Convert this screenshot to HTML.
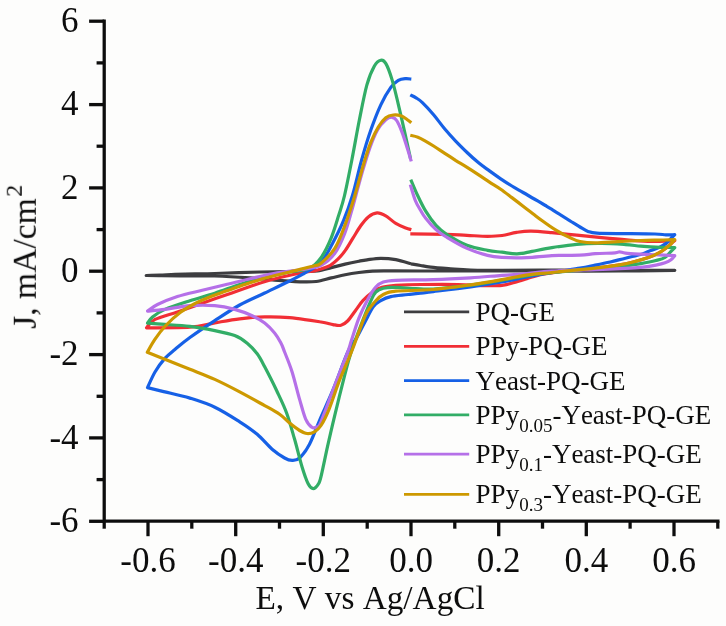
<!DOCTYPE html>
<html><head><meta charset="utf-8"><title>CV</title>
<style>
html,body{margin:0;padding:0;background:#fdfdfc;}
body{width:726px;height:626px;overflow:hidden;font-family:"Liberation Serif",serif;}
svg{display:block;will-change:transform;}
text{font-kerning:none;}
</style></head><body>
<svg width="726" height="626" viewBox="0 0 726 626">
<defs><filter id="soft" x="0" y="0" width="726" height="626" filterUnits="userSpaceOnUse"><feGaussianBlur stdDeviation="0.35"/></filter></defs>
<rect width="726" height="626" fill="#fdfdfc"/>
<g filter="url(#soft)">
<path d="M411.0 263.8C412.6 264.1 417.4 264.9 420.7 265.5C424.0 266.1 425.7 266.6 430.7 267.1C435.7 267.7 444.0 268.3 450.6 268.8C457.2 269.3 462.0 269.8 470.6 270.0C479.2 270.2 487.1 270.3 502.0 270.3C516.9 270.3 540.3 270.2 560.0 270.2C579.7 270.2 600.9 270.3 620.0 270.3C639.1 270.3 665.7 270.3 674.8 270.3C665.7 270.4 639.1 270.9 620.0 271.0C600.9 271.1 579.7 271.0 560.0 271.0C540.3 271.0 525.2 271.0 502.0 271.0C478.8 271.0 439.4 271.0 420.7 271.0C402.0 271.0 398.0 270.9 390.0 270.9C382.0 270.9 377.8 270.8 372.6 271.1C367.4 271.4 363.5 271.9 358.9 272.5C354.3 273.1 349.7 273.8 345.1 274.7C340.5 275.6 336.1 276.8 331.3 277.9C326.5 279.0 321.4 280.9 316.2 281.5C311.0 282.1 306.9 282.0 300.0 281.8C293.1 281.6 283.0 280.9 274.6 280.2C266.2 279.5 259.7 278.5 249.7 277.8C239.7 277.1 226.4 276.3 214.8 276.0C203.2 275.7 189.1 275.9 180.0 275.8C170.9 275.7 165.6 275.7 160.0 275.6C154.4 275.6 148.5 275.5 146.2 275.5C148.5 275.4 155.2 275.4 160.0 275.2C164.8 275.0 169.2 274.5 175.0 274.3C180.8 274.1 188.4 273.9 195.0 273.8C201.6 273.7 204.0 273.8 214.8 273.5C225.6 273.2 247.2 272.3 259.7 272.0C272.2 271.7 282.2 271.6 289.6 271.5C297.0 271.4 299.4 271.5 304.0 271.4C308.6 271.3 312.9 271.6 317.5 271.0C322.1 270.4 326.7 268.8 331.3 267.6C335.9 266.5 340.5 265.2 345.1 264.1C349.7 263.0 355.2 261.9 358.9 261.2C362.6 260.5 363.5 260.3 367.1 259.8C370.8 259.3 376.0 258.3 380.8 258.3C385.6 258.3 390.8 258.7 395.8 259.6C400.8 260.5 408.5 263.1 411.0 263.8" fill="none" stroke="#3c3e40" stroke-width="3.2" stroke-linejoin="round" stroke-linecap="butt"/>
<path d="M410.3 233.9C416.3 234.0 436.9 234.1 446.3 234.3C455.8 234.6 460.1 235.1 467.0 235.4C473.9 235.7 481.8 236.3 487.6 236.3C493.5 236.3 497.3 236.2 502.1 235.5C506.9 234.8 511.8 233.1 516.6 232.4C521.4 231.7 525.1 231.1 531.0 231.2C536.9 231.2 544.3 232.0 551.9 232.7C559.5 233.4 568.5 234.4 576.8 235.2C585.1 236.0 593.4 236.9 601.7 237.7C610.0 238.5 618.4 239.3 626.7 239.9C635.0 240.5 643.6 241.3 651.6 241.4C659.6 241.5 670.9 240.7 674.8 240.6C674.2 241.1 672.4 242.6 671.0 243.8C669.6 245.0 668.5 246.1 666.5 247.6C664.5 249.1 661.9 251.2 658.9 252.9C655.9 254.6 652.6 256.0 648.3 257.5C644.0 259.0 638.1 260.7 633.1 262.0C628.1 263.3 624.3 264.1 618.0 265.1C611.7 266.1 601.5 267.4 595.2 268.1C588.9 268.9 587.2 268.8 580.0 269.6C572.8 270.4 558.7 271.9 551.9 272.8C545.1 273.7 543.6 273.9 539.4 274.9C535.2 275.9 531.0 277.4 526.9 278.6C522.8 279.9 518.6 281.3 514.5 282.4C510.4 283.5 507.2 284.8 502.0 285.3C496.8 285.9 490.4 285.8 483.1 285.7C475.8 285.6 468.5 284.7 458.1 284.5C447.7 284.3 431.1 284.4 420.7 284.5C410.3 284.6 402.2 284.9 395.8 285.3C389.4 285.8 385.9 286.1 382.0 287.2C378.1 288.3 375.8 289.8 372.6 292.0C369.4 294.2 365.8 297.6 362.9 300.7C360.0 303.8 357.9 307.3 355.4 310.7C352.8 314.1 350.0 318.6 347.6 321.0C345.2 323.4 343.4 324.7 341.0 325.3C338.6 325.9 336.3 325.2 333.0 324.6C329.7 324.1 328.2 323.1 321.0 322.0C313.8 320.9 299.0 318.6 289.6 317.7C280.2 316.8 273.0 316.7 264.7 316.9C256.4 317.1 248.0 317.8 239.7 318.8C231.4 319.8 223.1 321.4 214.8 322.8C206.5 324.2 201.3 326.4 189.9 327.2C178.5 328.0 153.7 327.7 146.5 327.8C147.9 326.4 149.8 322.0 155.0 319.4C160.2 316.8 169.5 314.6 177.4 311.9C185.3 309.2 194.0 306.1 202.3 303.2C210.6 300.3 219.0 297.4 227.3 294.5C235.6 291.6 243.9 288.4 252.2 285.7C260.5 283.0 268.8 280.4 277.1 278.3C285.4 276.2 295.6 274.1 302.0 272.8C308.4 271.5 311.7 271.4 315.2 270.6C318.7 269.9 320.5 269.2 323.0 268.3C325.5 267.4 327.8 266.8 330.3 265.3C332.8 263.8 335.4 261.7 337.9 259.2C340.4 256.7 343.0 253.6 345.5 250.1C348.0 246.6 350.6 241.9 353.1 237.9C355.6 233.9 358.2 229.3 360.7 225.8C363.2 222.3 365.6 219.1 368.3 216.9C371.0 214.8 374.2 213.1 377.1 212.9C380.0 212.7 382.7 214.2 385.8 215.9C388.9 217.7 392.5 221.4 395.8 223.4C399.1 225.4 403.2 226.9 405.8 227.9C408.4 228.9 410.4 229.4 411.3 229.7" fill="none" stroke="#f12f35" stroke-width="3.2" stroke-linejoin="round" stroke-linecap="butt"/>
<path d="M410.3 94.8C411.2 95.3 414.0 96.5 416.0 97.8C418.0 99.1 419.5 99.8 422.4 102.6C425.3 105.4 429.9 110.3 433.6 114.7C437.3 119.1 441.1 124.6 444.8 129.0C448.5 133.4 452.2 137.4 455.9 141.3C459.6 145.2 463.4 148.9 467.1 152.5C470.8 156.1 474.6 159.5 478.3 162.6C482.0 165.7 485.8 168.2 489.5 170.9C493.2 173.6 497.0 176.3 500.7 178.8C504.4 181.3 508.2 183.7 511.9 186.0C515.6 188.3 519.4 190.3 523.1 192.5C526.8 194.7 530.6 196.8 534.3 199.0C538.0 201.2 542.5 203.8 545.4 205.5C548.3 207.2 547.5 206.7 551.9 209.4C556.3 212.2 567.1 219.1 571.8 222.0C576.5 224.9 577.3 225.4 580.0 227.0C582.7 228.6 585.2 230.4 588.0 231.4C590.8 232.4 590.8 232.8 597.0 233.2C603.2 233.6 615.8 233.5 625.5 233.6C635.2 233.7 648.2 233.8 655.0 234.0C661.8 234.2 662.7 234.7 666.0 234.8C669.3 234.9 673.3 234.7 674.8 234.7C674.2 235.3 672.4 237.1 671.0 238.5C669.6 239.9 668.5 241.6 666.5 243.1C664.5 244.6 661.9 246.2 658.9 247.6C655.9 249.0 651.3 250.2 648.3 251.4C645.3 252.6 644.5 253.4 640.7 254.5C636.9 255.6 630.6 256.9 625.5 258.2C620.4 259.4 615.3 260.9 610.3 262.0C605.2 263.1 600.2 264.1 595.2 265.1C590.2 266.1 587.2 266.9 580.0 268.1C572.8 269.3 560.8 271.0 551.9 272.5C543.0 274.0 535.2 275.4 526.9 277.0C518.6 278.6 511.4 280.4 502.0 282.0C492.6 283.6 482.1 285.2 470.6 286.8C459.1 288.4 443.6 290.3 433.2 291.6C422.8 292.9 415.4 293.7 408.3 294.5C401.2 295.3 395.4 295.6 390.8 296.6C386.2 297.6 383.7 298.9 380.8 300.6C377.9 302.3 375.9 303.2 373.4 306.6C370.9 310.0 368.4 315.4 365.6 320.7C362.8 325.9 359.5 332.9 356.5 338.1C353.5 343.3 351.7 343.4 347.8 352.0C343.9 360.6 337.8 378.2 333.2 389.4C328.6 400.6 323.9 410.2 320.0 419.3C316.1 428.4 312.9 437.8 309.5 444.2C306.1 450.6 302.5 455.3 299.6 458.0C296.7 460.7 294.6 460.4 292.1 460.4C289.6 460.4 287.9 459.9 284.6 458.0C281.3 456.1 276.7 453.1 272.1 449.2C267.5 445.2 262.6 438.9 257.2 434.3C251.8 429.7 246.8 426.3 239.7 421.8C232.6 417.3 223.1 411.1 214.8 407.2C206.5 403.2 198.2 400.7 189.9 398.1C181.6 395.6 172.0 393.6 164.9 391.9C157.8 390.1 150.4 388.3 147.5 387.6C148.8 385.0 152.1 376.9 155.0 372.0C157.9 367.1 161.6 362.1 164.9 358.4C168.2 354.6 170.7 353.0 174.9 349.5C179.1 346.0 183.2 342.3 189.9 337.5C196.6 332.7 206.5 326.0 214.8 320.6C223.1 315.2 231.4 309.6 239.7 305.0C248.0 300.4 256.4 297.0 264.7 293.0C273.0 289.0 283.0 284.3 289.6 281.0C296.2 277.7 299.4 276.3 304.6 273.2C309.8 270.1 316.4 267.3 321.0 262.3C325.6 257.3 328.8 250.3 332.5 243.4C336.2 236.5 340.1 228.8 343.4 220.9C346.7 213.0 349.2 206.2 352.3 196.0C355.4 185.8 358.6 170.7 361.7 159.7C364.8 148.7 367.7 139.0 370.9 129.8C374.1 120.7 377.5 111.9 380.8 104.8C384.1 97.7 387.9 91.5 390.8 87.4C393.7 83.3 395.8 81.9 398.3 80.4C400.8 78.9 403.6 78.8 405.8 78.6C408.0 78.4 410.4 79.0 411.3 79.1" fill="none" stroke="#1660e6" stroke-width="3.2" stroke-linejoin="round" stroke-linecap="butt"/>
<path d="M410.8 179.6C411.9 182.2 414.9 189.7 417.4 195.0C419.9 200.3 422.6 206.1 425.7 211.2C428.8 216.3 432.6 221.6 436.0 225.4C439.4 229.2 441.1 230.7 446.3 234.0C451.5 237.3 460.1 242.5 467.0 245.2C473.9 247.9 481.8 249.2 487.6 250.4C493.4 251.6 497.1 251.6 502.0 252.2C506.9 252.8 512.0 254.0 517.0 253.9C522.0 253.8 526.1 252.5 531.9 251.4C537.7 250.3 544.4 248.8 551.9 247.6C559.4 246.4 568.5 245.0 576.8 244.3C585.1 243.6 593.6 243.4 601.7 243.5C609.8 243.6 619.0 244.2 625.5 244.6C632.0 245.0 635.6 245.7 640.7 246.1C645.8 246.5 650.2 246.9 655.9 247.2C661.6 247.4 671.6 247.5 674.8 247.6C674.2 248.2 672.6 249.8 671.0 251.4C669.4 253.1 667.5 256.0 665.0 257.5C662.5 259.0 659.9 259.5 655.9 260.5C651.9 261.5 645.8 262.7 640.7 263.6C635.6 264.5 630.6 265.3 625.5 265.9C620.4 266.5 615.3 267.0 610.3 267.4C605.2 267.8 600.2 268.1 595.2 268.5C590.2 268.9 585.9 269.2 580.0 269.8C574.1 270.4 568.0 271.0 560.0 271.8C552.0 272.6 541.6 273.4 531.9 274.8C522.2 276.2 512.2 278.5 502.0 280.2C491.8 281.9 482.1 283.7 470.6 285.2C459.1 286.7 442.4 288.4 433.2 289.0C424.0 289.6 421.9 288.9 415.7 288.6C409.5 288.3 401.2 287.4 395.8 287.3C390.4 287.2 386.6 287.4 383.3 288.2C380.0 289.0 377.9 289.9 375.8 292.0C373.7 294.1 373.4 295.2 370.9 300.7C368.4 306.2 364.3 316.4 361.0 325.0C357.7 333.6 353.9 343.8 351.2 352.0C348.5 360.2 347.6 364.0 344.9 374.4C342.2 384.8 337.9 402.2 335.0 414.3C332.1 426.4 329.8 436.3 327.5 446.7C325.2 457.1 322.5 470.5 321.0 476.7C319.5 482.9 319.6 482.1 318.3 484.1C317.0 486.1 315.0 488.6 313.3 488.6C311.6 488.6 310.2 487.8 308.3 484.1C306.4 480.5 304.3 474.2 302.0 466.7C299.7 459.2 297.2 448.2 294.6 439.3C292.0 430.4 289.6 421.1 286.6 413.0C283.6 404.9 280.2 398.2 276.6 390.5C273.0 382.8 267.9 372.9 264.7 366.8C261.5 360.7 260.1 357.7 257.2 353.8C254.3 349.9 250.9 346.2 247.2 343.2C243.4 340.2 240.1 337.7 234.7 335.6C229.3 333.5 222.3 332.1 214.8 330.6C207.3 329.1 198.2 327.4 189.9 326.4C181.6 325.4 172.0 324.9 164.9 324.4C157.8 323.8 150.4 323.3 147.5 323.1C148.3 322.1 149.6 319.2 152.5 316.9C155.4 314.6 158.7 312.1 164.9 309.4C171.1 306.7 181.6 303.4 189.9 300.7C198.2 298.0 206.5 295.9 214.8 293.2C223.1 290.5 231.4 287.2 239.7 284.5C248.0 281.8 256.4 279.1 264.7 277.0C273.0 274.9 282.1 273.4 289.6 272.0C297.1 270.6 304.3 270.7 309.5 268.3C314.7 265.9 317.4 262.7 321.0 257.7C324.6 252.7 328.1 245.4 331.0 238.4C333.9 231.4 336.3 223.0 338.5 215.9C340.7 208.8 342.2 205.4 344.4 196.0C346.6 186.6 349.4 172.4 351.9 159.7C354.4 147.0 356.9 132.3 359.4 119.8C361.9 107.3 364.4 93.9 366.9 84.9C369.4 75.9 372.1 70.1 374.4 66.0C376.7 61.9 378.9 60.6 380.8 60.2C382.7 59.8 384.0 60.3 385.9 63.6C387.8 66.9 389.8 72.2 392.1 79.9C394.4 87.6 396.8 97.7 399.6 109.8C402.5 121.9 407.4 144.4 409.2 152.5C411.0 160.6 410.2 157.5 410.4 158.5" fill="none" stroke="#31ad66" stroke-width="3.2" stroke-linejoin="round" stroke-linecap="butt"/>
<path d="M410.3 184.6C411.1 187.2 413.6 196.2 415.3 200.5C417.0 204.8 419.0 207.6 420.7 210.5C422.4 213.4 423.1 215.0 425.7 218.2C428.2 221.4 432.6 226.5 436.0 229.6C439.4 232.7 441.1 233.9 446.3 237.0C451.5 240.1 460.1 245.3 467.0 248.4C473.9 251.5 481.8 253.9 487.6 255.4C493.4 256.9 495.4 257.0 502.0 257.4C508.6 257.8 518.6 257.9 526.9 257.6C535.2 257.3 543.0 256.0 551.9 255.6C560.8 255.2 572.8 255.5 580.0 255.2C587.2 254.9 589.4 254.1 595.2 253.7C601.0 253.3 610.9 253.2 614.9 252.9C618.9 252.6 617.7 251.9 619.5 251.9C621.3 251.9 622.0 252.8 625.5 253.2C629.0 253.6 635.1 253.9 640.7 254.2C646.3 254.5 653.2 254.7 658.9 254.9C664.6 255.2 672.1 255.6 674.8 255.7C674.2 256.4 672.6 258.6 671.0 259.8C669.4 261.0 667.5 261.9 665.0 262.8C662.5 263.7 659.9 264.3 655.9 265.1C651.9 265.9 645.8 266.8 640.7 267.4C635.6 267.9 631.8 268.1 625.5 268.4C619.2 268.7 615.1 268.9 602.8 269.3C590.5 269.8 564.5 270.4 551.9 271.1C539.2 271.8 535.2 273.0 526.9 273.7C518.6 274.4 511.4 274.6 502.0 275.3C492.6 276.0 482.1 277.1 470.6 277.8C459.1 278.5 445.7 279.2 433.2 279.6C420.7 280.0 404.1 279.9 395.8 280.3C387.5 280.7 386.6 280.9 383.3 282.0C380.0 283.1 378.3 284.3 375.8 287.0C373.3 289.7 371.2 293.0 368.4 298.2C365.6 303.4 361.7 311.1 358.9 318.2C356.1 325.3 353.3 335.0 351.4 340.6C349.5 346.2 350.8 343.8 347.7 352.0C344.6 360.2 337.4 378.4 333.0 390.0C328.6 401.6 323.7 415.7 321.0 421.8C318.3 427.9 318.5 425.9 317.0 426.8C315.5 427.7 313.9 428.6 312.0 427.3C310.1 426.1 307.9 424.0 305.8 419.3C303.7 414.6 301.9 407.3 299.6 399.4C297.3 391.5 294.6 379.8 292.1 371.9C289.6 364.0 286.5 356.8 284.6 352.0C282.7 347.2 282.6 346.1 280.9 343.0C279.2 339.9 277.3 336.4 274.6 333.1C271.9 329.8 268.4 326.0 264.7 323.1C261.0 320.2 257.2 318.0 252.2 315.7C247.2 313.4 240.9 311.1 234.7 309.4C228.5 307.7 222.3 306.3 214.8 305.7C207.3 305.1 198.2 305.1 189.9 305.7C181.6 306.3 172.0 308.5 164.9 309.4C157.8 310.3 150.4 310.9 147.5 311.2C149.2 310.1 152.5 306.9 157.5 304.5C162.5 302.1 169.9 298.9 177.4 296.5C184.9 294.1 194.0 292.3 202.3 290.3C210.6 288.3 219.0 286.3 227.3 284.3C235.6 282.3 243.9 280.2 252.2 278.3C260.5 276.4 268.8 274.3 277.1 272.8C285.4 271.3 294.7 270.8 302.0 269.5C309.3 268.2 315.5 267.9 321.0 265.2C326.5 262.5 330.9 258.6 334.8 253.3C338.8 248.0 341.9 240.5 344.7 233.4C347.5 226.3 349.8 217.2 351.6 211.0C353.4 204.8 353.8 202.9 355.7 196.0C357.6 189.1 360.6 177.7 363.0 169.6C365.4 161.5 367.7 153.8 370.1 147.2C372.5 140.6 375.0 134.4 377.6 129.8C380.2 125.2 383.4 121.9 385.8 119.8C388.2 117.7 390.2 117.1 392.1 117.3C394.0 117.5 395.4 118.5 397.0 121.0C398.6 123.5 400.3 127.8 402.0 132.2C403.7 136.6 405.4 142.3 407.0 147.2C408.6 152.1 410.6 159.0 411.3 161.4" fill="none" stroke="#b56fe8" stroke-width="3.2" stroke-linejoin="round" stroke-linecap="butt"/>
<path d="M410.3 135.3C411.6 135.6 415.4 136.3 417.9 137.2C420.3 138.1 422.4 139.3 425.0 140.8C427.6 142.3 430.3 143.9 433.6 146.0C436.9 148.1 441.1 150.9 444.8 153.3C448.5 155.7 452.2 158.2 455.9 160.6C459.6 162.9 463.4 165.0 467.1 167.4C470.8 169.7 474.6 172.2 478.3 174.7C482.0 177.1 485.8 179.7 489.5 182.1C493.2 184.5 497.0 186.6 500.7 189.2C504.4 191.8 508.2 194.8 511.9 197.6C515.6 200.4 519.4 203.3 523.1 206.2C526.8 209.1 531.2 212.4 534.3 214.8C537.4 217.2 538.1 217.8 541.9 220.5C545.6 223.2 552.2 227.9 556.8 230.7C561.4 233.5 565.4 235.5 569.3 237.3C573.2 239.1 575.7 240.6 580.0 241.5C584.3 242.4 588.9 242.8 595.2 242.8C601.5 242.8 610.4 242.0 618.0 241.6C625.6 241.2 633.1 240.8 640.7 240.5C648.3 240.2 657.8 240.2 663.5 240.0C669.2 239.8 672.9 239.7 674.8 239.6C674.2 240.3 672.4 242.5 671.0 243.8C669.6 245.1 668.5 246.1 666.5 247.6C664.5 249.1 661.9 251.2 658.9 252.9C655.9 254.6 652.6 256.0 648.3 257.5C644.0 259.0 638.1 260.7 633.1 262.0C628.1 263.3 624.3 264.1 618.0 265.1C611.7 266.1 601.5 267.4 595.2 268.1C588.9 268.9 587.2 268.9 580.0 269.6C572.8 270.3 559.9 271.7 551.9 272.5C543.9 273.3 537.7 273.6 531.9 274.3C526.1 275.0 522.0 275.8 517.0 276.7C512.0 277.6 509.7 278.2 502.0 279.6C494.3 281.0 482.1 283.2 470.6 284.8C459.1 286.4 445.7 288.4 433.2 289.5C420.7 290.6 404.1 290.4 395.8 291.2C387.5 292.0 386.6 292.9 383.3 294.5C380.0 296.1 378.6 297.6 375.8 300.7C373.0 303.8 369.2 308.0 366.4 313.2C363.6 318.4 361.4 325.4 358.9 331.9C356.4 338.4 354.7 343.7 351.4 352.0C348.1 360.3 342.6 372.3 338.9 381.9C335.2 391.4 332.0 402.0 329.0 409.3C326.0 416.6 323.4 421.8 321.0 425.5C318.6 429.2 316.8 430.5 314.5 431.8C312.2 433.1 309.5 433.7 307.0 433.5C304.5 433.3 302.5 432.2 299.6 430.5C296.7 428.8 292.9 425.8 289.6 423.1C286.3 420.4 283.8 417.2 279.6 414.3C275.5 411.4 271.4 409.3 264.7 405.6C258.0 401.9 248.0 396.3 239.7 391.9C231.4 387.5 223.1 383.2 214.8 379.4C206.5 375.6 198.2 372.6 189.9 369.3C181.6 366.0 172.0 362.1 164.9 359.3C157.8 356.5 150.2 353.5 147.3 352.3C148.5 350.2 151.7 344.0 154.7 339.6C157.7 335.2 161.0 330.6 165.3 326.0C169.6 321.4 175.4 316.1 180.5 312.3C185.6 308.5 190.6 305.9 195.7 303.2C200.8 300.5 205.8 298.4 210.9 296.4C216.0 294.4 220.9 292.9 226.0 291.1C231.1 289.3 234.8 287.9 241.2 285.8C247.6 283.7 256.6 280.6 264.7 278.3C272.8 276.0 281.3 274.1 289.6 272.0C297.9 269.9 309.3 267.2 314.5 265.8C319.7 264.4 317.6 266.2 321.0 263.3C324.4 260.4 330.9 254.6 334.8 248.4C338.8 242.2 341.4 234.6 344.7 225.9C348.0 217.2 351.6 206.2 354.7 196.0C357.8 185.8 360.7 173.7 363.4 164.7C366.1 155.7 368.4 148.5 370.9 142.2C373.4 135.9 375.8 131.1 378.3 127.0C380.8 122.9 383.3 119.8 385.8 117.8C388.3 115.8 390.8 115.3 393.3 115.0C395.8 114.7 398.5 115.0 400.8 115.8C403.1 116.5 405.2 118.3 407.0 119.5C408.8 120.7 410.6 122.2 411.3 122.8" fill="none" stroke="#cd9904" stroke-width="3.2" stroke-linejoin="round" stroke-linecap="butt"/>
<g stroke="#111" stroke-width="3.3" fill="none" stroke-linecap="butt">
<path d="M104.2 19.5 V521.2 H719.5"/>
<path d="M104.2 521.3 H89.1"/>
<path d="M104.2 479.6 H96.6"/>
<path d="M104.2 437.9 H89.1"/>
<path d="M104.2 396.3 H96.6"/>
<path d="M104.2 354.6 H89.1"/>
<path d="M104.2 312.9 H96.6"/>
<path d="M104.2 271.2 H89.1"/>
<path d="M104.2 229.6 H96.6"/>
<path d="M104.2 187.9 H89.1"/>
<path d="M104.2 146.2 H96.6"/>
<path d="M104.2 104.6 H89.1"/>
<path d="M104.2 62.9 H96.6"/>
<path d="M104.2 21.2 H89.1"/>
<path d="M104.2 521.2 V528.7"/>
<path d="M148.0 521.2 V536.2"/>
<path d="M191.8 521.2 V528.7"/>
<path d="M235.7 521.2 V536.2"/>
<path d="M279.5 521.2 V528.7"/>
<path d="M323.3 521.2 V536.2"/>
<path d="M367.2 521.2 V528.7"/>
<path d="M411.0 521.2 V536.2"/>
<path d="M454.8 521.2 V528.7"/>
<path d="M498.7 521.2 V536.2"/>
<path d="M542.5 521.2 V528.7"/>
<path d="M586.3 521.2 V536.2"/>
<path d="M630.1 521.2 V528.7"/>
<path d="M674.0 521.2 V536.2"/>
<path d="M717.8 521.2 V528.7"/>
</g>
<g font-family="Liberation Serif, serif" font-size="35" fill="#111">
<text x="78.6" y="532.0" text-anchor="end">-6</text>
<text x="78.6" y="448.6" text-anchor="end">-4</text>
<text x="78.6" y="365.3" text-anchor="end">-2</text>
<text x="78.6" y="281.9" text-anchor="end">0</text>
<text x="78.6" y="198.6" text-anchor="end">2</text>
<text x="78.6" y="115.3" text-anchor="end">4</text>
<text x="78.6" y="31.9" text-anchor="end">6</text>
<text x="148.0" y="572.4" text-anchor="middle">-0.6</text>
<text x="235.7" y="572.4" text-anchor="middle">-0.4</text>
<text x="323.3" y="572.4" text-anchor="middle">-0.2</text>
<text x="411.0" y="572.4" text-anchor="middle">0.0</text>
<text x="498.7" y="572.4" text-anchor="middle">0.2</text>
<text x="586.3" y="572.4" text-anchor="middle">0.4</text>
<text x="674.0" y="572.4" text-anchor="middle">0.6</text>
<text x="255.4" y="608.6" font-size="33.3">E, V vs Ag/AgCl</text>
<text transform="translate(35.8,328.8) rotate(-90)" font-size="33.6">J, mA/cm<tspan font-size="24" dx="1.3" dy="-13.8">2</tspan></text>
</g>
<g font-family="Liberation Serif, serif" font-size="27.0" fill="#111">
<path d="M404 311.9 H469.2" stroke="#3c3e40" stroke-width="2.8"/>
<text x="475.6" y="321.0">PQ-GE</text>
<path d="M404 346.3 H469.2" stroke="#f12f35" stroke-width="2.8"/>
<text x="475.6" y="355.0">PPy-PQ-GE</text>
<path d="M404 380.7 H469.2" stroke="#1660e6" stroke-width="2.8"/>
<text x="475.6" y="389.6">Yeast-PQ-GE</text>
<path d="M404 414.8 H469.2" stroke="#31ad66" stroke-width="2.8"/>
<text x="475.6" y="423.7">PPy<tspan font-size="19" dy="8">0.05</tspan><tspan dy="-8">-Yeast-PQ-GE</tspan></text>
<path d="M404 454.2 H469.2" stroke="#b56fe8" stroke-width="2.8"/>
<text x="475.6" y="463.0">PPy<tspan font-size="19" dy="8">0.1</tspan><tspan dy="-8">-Yeast-PQ-GE</tspan></text>
<path d="M404 494.3 H469.2" stroke="#cd9904" stroke-width="2.8"/>
<text x="475.6" y="502.7">PPy<tspan font-size="19" dy="8">0.3</tspan><tspan dy="-8">-Yeast-PQ-GE</tspan></text>
</g>
</g>
</svg>
</body></html>
